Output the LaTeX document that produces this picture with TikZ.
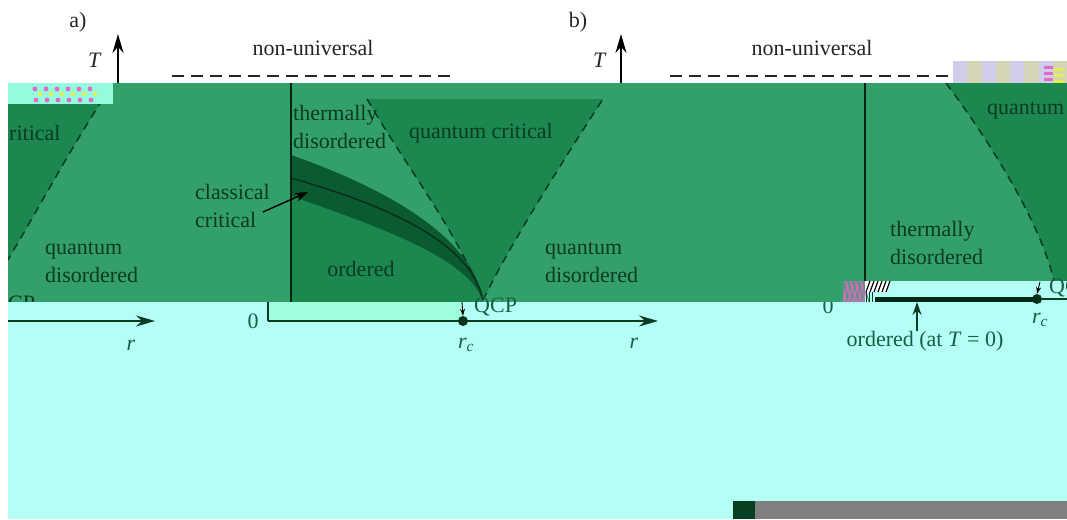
\documentclass[tikz,border=0pt]{standalone}
\usepackage{fontspec}
\setmainfont{Liberation Serif}
\usepackage{xcolor}
\usetikzlibrary{arrows.meta, positioning}
\definecolor{bandgreen}{RGB}{52,160,105}
\definecolor{fangreen}{RGB}{28,136,80}
\definecolor{critgreen}{RGB}{10,92,48}
\definecolor{inkgreen}{RGB}{12,58,34}
\definecolor{axiscyan}{RGB}{180,255,245}
\definecolor{mintgreen}{RGB}{160,255,222}
\definecolor{labelteal}{RGB}{22,95,68}
\definecolor{glitchmint}{RGB}{150,250,222}
\definecolor{glitchpink}{RGB}{225,105,200}
\definecolor{glitchyellow}{RGB}{225,240,80}
\definecolor{glitchlav}{RGB}{208,205,235}
\definecolor{glitchkhaki}{RGB}{212,212,182}

\begin{document}
\begin{tikzpicture}[
    x=1pt, y=-1pt,
    region/.style={font=\fontsize{22}{28}\selectfont, text=inkgreen, inner sep=0pt, align=left},
    axislabel/.style={font=\fontsize{22}{26}\selectfont, text=labelteal, inner sep=0pt},
    toplabel/.style={font=\fontsize{22}{26}\selectfont, text=black!85, inner sep=0pt},
    boundary/.style={draw=inkgreen, line width=1.5pt, dash pattern=on 8pt off 6pt},
    topdash/.style={draw=black!85, line width=1.5pt, dash pattern=on 12pt off 7pt},
    phaseline/.style={draw=inkgreen!80!black, line width=1.5pt},
    tline/.style={draw=inkgreen!60!black, line width=1.3pt},
    axisline/.style={draw=inkgreen, line width=1.6pt},
    arrow/.style={-{Stealth[length=19pt,width=11pt]}, line width=1.6pt},
    midarrow/.style={-{Stealth[length=13pt,width=9pt]}, line width=1.4pt},
    smallarrow/.style={-{Stealth[length=7pt,width=5pt]}, line width=0.9pt},
    rcdot/.style={circle, fill=critgreen!55!black, minimum size=10pt, inner sep=0pt},
]
    \useasboundingbox (0,0) rectangle (1067,519);
    \fill[white] (0,0) rectangle (1067,519);

    % top strip: panel letters, T axes, non-universal
    \node[toplabel] (lblA) at (78,22) {a)};
    \node[toplabel] (Ta) at (95,60) {\textit{T}};
    \coordinate (TaBase) at (118,84);
    \coordinate (TaTip) at (118,34);
    \draw[arrow] (TaBase) -- (TaTip);
    \node[toplabel] (nuA) at (313,48) {non-universal};
    \coordinate (nuAleft) at (172,76);
    \coordinate (nuAright) at (455,76);
    \draw[topdash] (nuAleft) -- (nuAright);

    \node[toplabel] (lblB) at (578,22) {b)};
    \node[toplabel] (Tb) at (600,60) {\textit{T}};
    \coordinate (TbBase) at (621,84);
    \coordinate (TbTip) at (621,34);
    \draw[arrow] (TbBase) -- (TbTip);
    \node[toplabel] (nuB) at (812,48) {non-universal};
    \coordinate (nuBleft) at (670,76);
    \coordinate (nuBright) at (953,76);
    \draw[topdash] (nuBleft) -- (nuBright);

    % green band with the phase diagrams
    \fill[bandgreen] (8,83) rectangle (1067,302);
    \begin{scope}
        \clip (8,83) rectangle (1067,302);
        % left remnant
        \fill[fangreen] (8,99) -- (103,99) .. controls (60,165) and (25,235) .. (-17,300) -- cycle;
        \draw[boundary] (103,99) .. controls (60,165) and (25,235) .. (-17,300);
        \node[region, anchor=west] (qcLeft) at (9,133) {ritical};
        \node[region, anchor=west] (qdLeft) at (45,262) {quantum\\disordered};
        \node[region, anchor=west] (qcpLeft) at (8,303) {CP};

        % panel a
        \fill[fangreen] (367,99) .. controls (405,165) and (460,235) .. (483,300)
            .. controls (510,245) and (560,165) .. (603,99) -- cycle;
        \fill[fangreen] (291,196) .. controls (395,232) and (466,260) .. (483,300)
            -- (483,302) -- (291,302) -- cycle;
        \fill[critgreen] (291,155) .. controls (405,195) and (474,245) .. (483,300)
            .. controls (466,260) and (395,232) .. (291,196) -- cycle;
        \draw[phaseline] (291,178) .. controls (410,212) and (472,250) .. (483,300);
        \draw[boundary] (367,99) .. controls (405,165) and (460,235) .. (483,300);
        \draw[boundary] (483,300) .. controls (510,245) and (560,165) .. (603,99);
        \draw[tline] (291,83) -- (291,302);
        \node[region, anchor=west] (thermA) at (293,127) {thermally\\disordered};
        \node[region] (qcA) at (481,133) {quantum critical};
        \node[region] (ordA) at (361,269) {ordered};
        \node[region, anchor=west] (qdA) at (545,262) {quantum\\disordered};
        \node[region, anchor=west] (classA) at (195,206) {classical\\critical};
        \coordinate (classTip) at (308,192);
        \draw[midarrow] ([shift={(-7,6)}]classA.east) -- (classTip);

        % panel b
        \fill[fangreen] (946,83) .. controls (985,135) and (1040,220) .. (1054,281)
            -- (1067,281) -- (1067,83) -- cycle;
        \draw[boundary] (946,83) .. controls (985,135) and (1040,220) .. (1054,281);
        \draw[tline] (865,83) -- (865,281);
        \node[region, anchor=west] (thermB) at (890,243) {thermally\\disordered};
        \node[region, anchor=west] (qcB) at (987,111) {quantum};
    \end{scope}

    % r axes
    \fill[axiscyan] (8,302) rectangle (1067,519);
    \fill[axiscyan] (865,281) rectangle (1067,302);
    \fill[mintgreen] (268,302) rectangle (462,321);

    \coordinate (rLeftStart) at (8,321);
    \coordinate (rLeftTip) at (155,321);
    \draw[arrow, draw=inkgreen] (rLeftStart) -- (rLeftTip);
    \node[axislabel] (rLeft) at (131,345) {\textit{r}};

    \node[axislabel] (zeroA) at (253,321) {0};
    \coordinate (TaFoot) at (268,302);
    \coordinate (originA) at (268,321);
    \coordinate (rAtip) at (658,321);
    \draw[axisline] (TaFoot) -- (originA);
    \draw[arrow, draw=inkgreen] (originA) -- (rAtip);
    \node[rcdot] (rcA) at (463,321) {};
    \node[axislabel] (rcAlbl) at (466,345) {\textit{r}\textsubscript{\textit{c}}};
    \node[axislabel] (rA) at (634,343) {\textit{r}};
    \node[region, text=labelteal, anchor=west] (qcpA) at (474,307) {QCP};
    \coordinate (qcpAtail) at (462,302);
    \draw[smallarrow] (qcpAtail) -- (rcA.north);

    \begin{scope}
        \clip (800,302) rectangle (843,330);
        \node[axislabel] (zeroB) at (828,306) {0};
    \end{scope}
    \coordinate (orderedL) at (875,299);
    \node[rcdot] (rcB) at (1037,299) {};
    \coordinate (rBend) at (1067,299);
    \draw[line width=5pt, draw=critgreen!45!black] (orderedL) -- (rcB.center);
    \draw[axisline] (rcB) -- (rBend);
    \node[axislabel] (rcBlbl) at (1040,320) {\textit{r}\textsubscript{\textit{c}}};
    \node[axislabel] (orderedB) at (925,341) {ordered (at \textit{T} = 0)};
    \coordinate (orderedTip) at (917,302);
    \draw[midarrow, draw=inkgreen] (orderedB.north -| orderedTip) -- (orderedTip);
    \begin{scope}
        \clip (8,0) rectangle (1067,519);
        \node[region, text=labelteal, anchor=west] (qcpB) at (1049,288) {QC};
    \end{scope}
    \coordinate (qcpBtail) at (1040,282);
    \draw[smallarrow] (qcpBtail) -- (rcB.north);

    % stray patches
    \fill[glitchmint] (8,83) rectangle (113,104);
    \foreach \i in {0,...,5} {
        \fill[glitchpink] (35+11*\i,89) circle (2.4);
        \fill[glitchyellow] (40+11*\i,94) circle (2.2);
        \fill[glitchpink] (36+11*\i,100) circle (2.4);
    }
    \foreach \k in {0,...,7} {
        \pgfmathsetmacro{\sx}{953+14.25*\k}
        \ifodd\k
            \fill[glitchkhaki] (\sx,61) rectangle ++(14.25,22);
        \else
            \fill[glitchlav] (\sx,61) rectangle ++(14.25,22);
        \fi
    }
    \foreach \j in {0,1,2} {
        \fill[glitchpink] (1044,66+6*\j) rectangle ++(9,2.5);
        \fill[glitchyellow] (1054,68+6*\j) rectangle ++(10,2.5);
    }
    \fill[glitchpink!60!bandgreen] (843,281) rectangle (865,302);
    \foreach \k in {0,5,...,20} {
        \draw[bandgreen, line width=1pt] (843+\k,281) -- ++(6,21);
        \draw[glitchpink, line width=1pt] (849+\k,281) -- ++(-6,21);
    }
    \fill[white] (865,281) rectangle (888,292);
    \foreach \k in {0,4,...,20} {
        \draw[black, line width=1.2pt] (866+\k,292) -- ++(4,-11);
    }
    \foreach \k in {866,869,872} {
        \draw[inkgreen, line width=1pt] (\k,292) -- (\k,302);
    }
    \fill[gray] (733,501) rectangle (1067,519);
    \fill[critgreen!70!black] (733,501) rectangle (755,519);
\end{tikzpicture}
\end{document}
